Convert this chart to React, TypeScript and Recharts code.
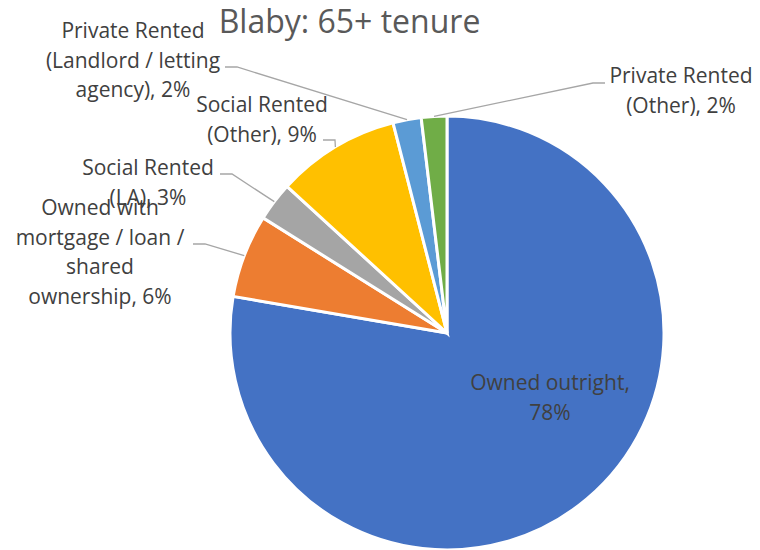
import { PieChart, Pie, Cell } from 'recharts';

const categories = [
    'Owned outright',
    'Owned with mortgage / loan / shared ownership',
    'Social Rented (LA)',
    'Social Rented (Other)',
    'Private Rented (Landlord / letting agency)',
    'Private Rented (Other)',
];
const shares = [77.7, 6.2, 2.9, 9.2, 2.1, 1.9];
const colors = ['#4472C4', '#ED7D31', '#A5A5A5', '#FFC000', '#5B9BD5', '#70AD47'];

// how each data label wraps; {p} is replaced by the rounded percentage
const labelText = [
    ['Owned outright,', '{p}%'],
    ['Owned with', 'mortgage / loan /', 'shared', 'ownership, {p}%'],
    ['Social Rented', '(LA), {p}%'],
    ['Social Rented', '(Other), {p}%'],
    ['Private Rented', '(Landlord / letting', 'agency), {p}%'],
    ['Private Rented', '(Other), {p}%'],
];

const data = categories.map((name, i) => ({ name, value: shares[i] }));

// label placement (text centre, first baseline) and leader line elbow
const labelLayout: any[] = [
    { x: 550, y: 390, leader: null },
    { x: 100, y: 215, leader: [193, 205, 244] },
    { x: 148, y: 175, leader: [220, 232, 174] },
    { x: 262, y: 112, leader: [323, 335, 140] },
    { x: 133, y: 38, leader: [225, 237, 67] },
    { x: 681, y: 83, leader: [605, 593, 83] },
];

const FONT = '"Open Sans", sans-serif';
const RAD = Math.PI / 180;

const renderLabel = (props: any) => {
    const { cx, cy, midAngle, outerRadius, index, percent } = props;
    const pos = labelLayout[index];
    const pct = Math.round(percent * 100);
    const ax = cx + outerRadius * Math.cos(-midAngle * RAD);
    const ay = cy + outerRadius * Math.sin(-midAngle * RAD);
    return (
        <g key={`lbl-${index}`}>
            {pos.leader && (
                <polyline
                    points={`${pos.leader[0]},${pos.leader[2]} ${pos.leader[1]},${pos.leader[2]} ${ax},${ay}`}
                    fill="none"
                    stroke="#A6A6A6"
                    strokeWidth={1.3}
                />
            )}
            <text textAnchor="middle" fill="#404040" fontSize={21} fontFamily={FONT}>
                {labelText[index].map((line, i) => (
                    <tspan key={i} x={pos.x} y={pos.y + i * 29.5}>
                        {line.replace('{p}', String(pct))}
                    </tspan>
                ))}
            </text>
        </g>
    );
};

export default function App() {
    return (
        <div style={{ position: 'absolute', left: 0, top: 0, width: 760, height: 550, background: '#fff' }}>
            <PieChart width={760} height={550} margin={{ top: 0, right: 0, bottom: 0, left: 0 }}>
                <Pie
                    data={data}
                    dataKey="value"
                    nameKey="name"
                    cx={447}
                    cy={333}
                    outerRadius={217}
                    startAngle={90}
                    endAngle={-270}
                    stroke="#FFFFFF"
                    strokeWidth={3}
                    label={renderLabel}
                    labelLine={false}
                    isAnimationActive={false}
                >
                    {data.map((entry, index) => (
                        <Cell key={`cell-${index}`} fill={colors[index]} />
                    ))}
                </Pie>
            </PieChart>
            <svg width={760} height={550} style={{ position: 'absolute', left: 0, top: 0, pointerEvents: 'none' }}>
                <text x={349.5} y={33} textAnchor="middle" fill="#595959" fontSize={32} fontFamily={FONT}>
                    Blaby: 65+ tenure
                </text>
            </svg>
        </div>
    );
}
